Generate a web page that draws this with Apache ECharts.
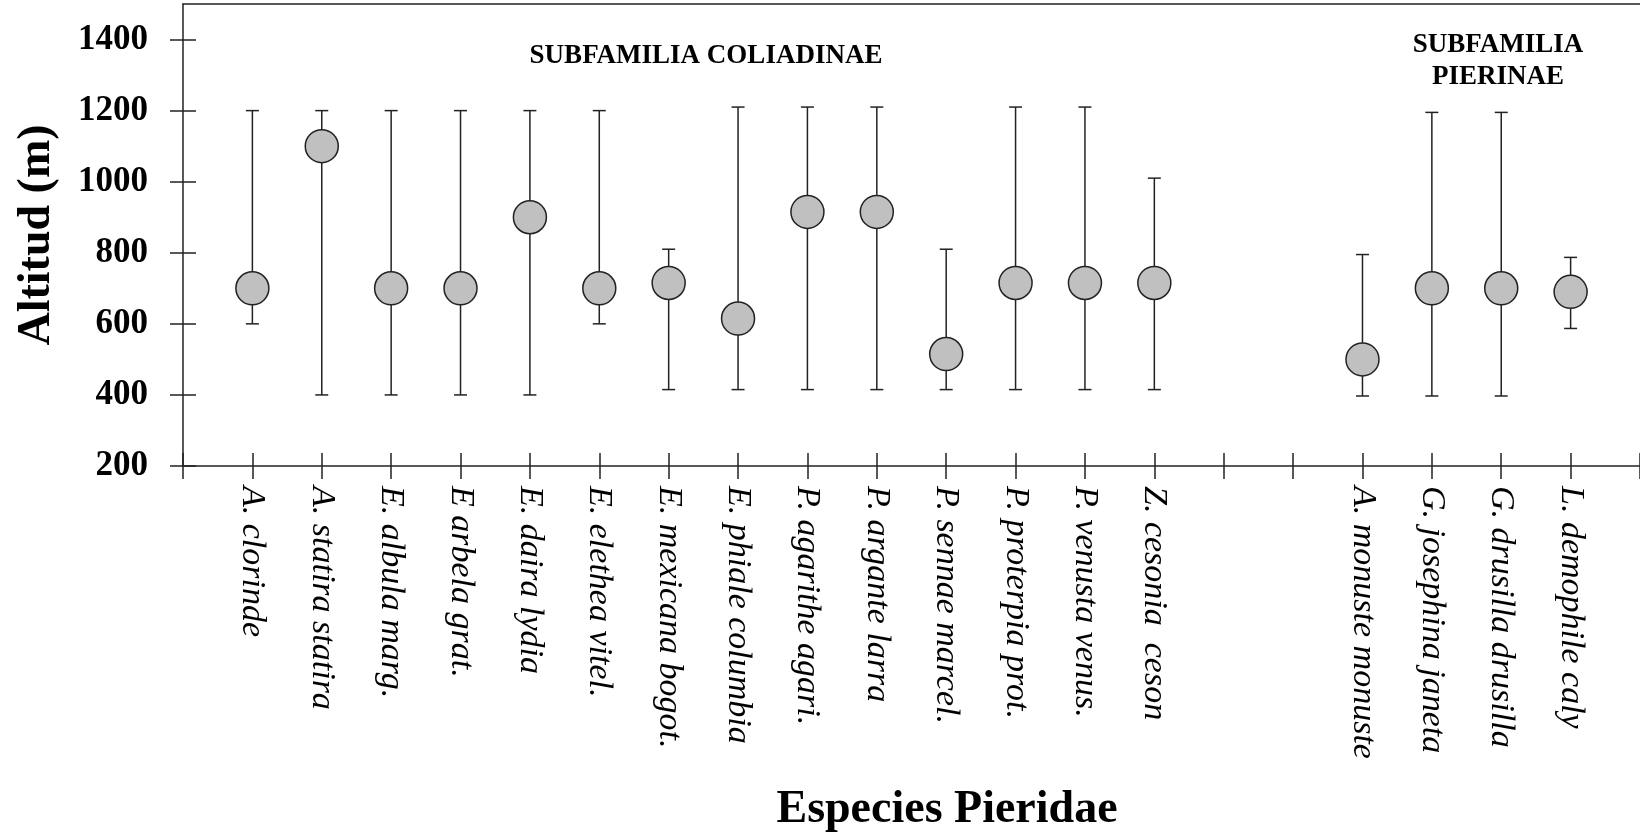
<!DOCTYPE html>
<html><head><meta charset="utf-8">
<script src="https://cdn.jsdelivr.net/npm/echarts@6/dist/echarts.min.js"></script>
<style>html,body{margin:0;padding:0;background:#fff}#c{width:1640px;height:840px}</style>
</head><body><div id="c"></div>
<script>
// Categories (slots 15 and 16 are empty gaps between subfamilies)
const species = ['A. clorinde','A. statira statira','E. albula marg.','E arbela grat.','E. daira lydia','E. elethea vitel.','E. mexicana bogot.','E. phiale columbia','P. agarithe agari.','P. argante larra','P. sennae marcel.','P. proterpia prot.','P. venusta venus.','Z. cesonia  ceson','','','A. monuste monuste','G. josephina janeta','G. drusilla drusilla','L. demophile caly'];
const meanAlt = [700,1100,700,700,900,700,715,615,915,915,515,715,715,715,null,null,500,700,700,690];
const minAlt  = [600,400,400,400,400,600,415,415,415,415,415,415,415,415,null,null,397,397,397,587];
const maxAlt  = [1200,1200,1200,1200,1200,1200,810,1210,1210,1210,810,1210,1210,1010,null,null,795,1195,1195,787];
const yTicks = [200,400,600,800,1000,1200,1400];
const annotColiadinae = 'SUBFAMILIA COLIADINAE';
const annotPierinae = ['SUBFAMILIA','PIERINAE'];
const xTitle = 'Especies Pieridae';
const yTitle = 'Altitud (m)';

const errData = [], meanData = [];
species.forEach((s,i)=>{
  if (meanAlt[i] == null) return;
  errData.push([i+1, minAlt[i], maxAlt[i]]);
  meanData.push([i+1, meanAlt[i]]);
});

const serif = '"Liberation Serif", "Times New Roman", serif';
const lineCol = '#222';
const chart = echarts.init(document.getElementById('c'), null, {renderer:'canvas'});
chart.setOption({
  backgroundColor:'#fff',
  animation:false,
  grid:{left:183, right:0, top:4, bottom:374, containLabel:false},
  xAxis:[
    {type:'value', min:0, max:21, interval:1, position:'bottom',
     axisLine:{show:true, lineStyle:{color:lineCol, width:1.5}},
     axisTick:{show:true, inside:false, length:13, lineStyle:{color:lineCol, width:1.5}},
     splitLine:{show:false},
     axisLabel:{show:true, rotate:-90, margin:20, color:'#000', fontFamily:serif, fontStyle:'italic', fontSize:34,
       formatter:v=>species[v-1] || ''}},
    {type:'value', min:0, max:21, interval:1, position:'bottom',
     axisLine:{show:false},
     axisTick:{show:true, inside:true, length:13, lineStyle:{color:lineCol, width:1.5}},
     splitLine:{show:false}, axisLabel:{show:false}},
    {type:'value', min:0, max:21, interval:1, position:'top',
     axisLine:{show:true, lineStyle:{color:lineCol, width:1.5}},
     axisTick:{show:false}, splitLine:{show:false}, axisLabel:{show:false}}
  ],
  yAxis:[
    {type:'value', min:200, max:1500, interval:200, position:'left',
     axisLine:{show:true, lineStyle:{color:lineCol, width:1.5}},
     axisTick:{show:true, inside:false, length:13, customValues:yTicks, lineStyle:{color:lineCol, width:1.5}},
     splitLine:{show:false},
     axisLabel:{show:true, customValues:yTicks, margin:35, color:'#000', fontFamily:serif, fontWeight:'bold', fontSize:35,
       formatter:v=>String(v)}},
    {type:'value', min:200, max:1500, interval:200, position:'left',
     axisLine:{show:false},
     axisTick:{show:true, inside:true, length:13, customValues:yTicks, lineStyle:{color:lineCol, width:1.5}},
     splitLine:{show:false}, axisLabel:{show:false}}
  ],
  series:[
    {type:'custom', xAxisIndex:0, yAxisIndex:0, data:errData, encode:{x:0, y:[1,2]}, z:2,
     renderItem:(params, api)=>{
       const x = api.value(0), lo = api.value(1), hi = api.value(2);
       const pLo = api.coord([x, lo]), pHi = api.coord([x, hi]);
       const hw = 6.5;
       const st = {stroke:lineCol, lineWidth:1.5};
       return {type:'group', children:[
         {type:'line', shape:{x1:pLo[0], y1:pLo[1], x2:pHi[0], y2:pHi[1]}, style:st},
         {type:'line', shape:{x1:pLo[0]-hw, y1:pLo[1], x2:pLo[0]+hw, y2:pLo[1]}, style:st},
         {type:'line', shape:{x1:pHi[0]-hw, y1:pHi[1], x2:pHi[0]+hw, y2:pHi[1]}, style:st}
       ]};
     }},
    {type:'scatter', xAxisIndex:0, yAxisIndex:0, data:meanData, z:5, symbol:'circle', symbolSize:33,
     itemStyle:{color:'#c0c0c0', borderColor:lineCol, borderWidth:1.5, opacity:1}}
  ],
  graphic:[
    {type:'text', x:706, y:56, z:10, style:{text:annotColiadinae, fill:'#000', font:'bold 27px '+serif, textAlign:'center', textVerticalAlign:'middle', align:'center', verticalAlign:'middle'}},
    {type:'text', x:1498, y:45, z:10, style:{text:annotPierinae[0], fill:'#000', font:'bold 27px '+serif, textAlign:'center', textVerticalAlign:'middle', align:'center', verticalAlign:'middle'}},
    {type:'text', x:1498, y:77, z:10, style:{text:annotPierinae[1], fill:'#000', font:'bold 27px '+serif, textAlign:'center', textVerticalAlign:'middle', align:'center', verticalAlign:'middle'}},
    {type:'text', x:947, y:810, z:10, style:{text:xTitle, fill:'#000', font:'bold 46px '+serif, textAlign:'center', textVerticalAlign:'middle', align:'center', verticalAlign:'middle'}},
    {type:'text', x:37, y:235, rotation:Math.PI/2, z:10, style:{text:yTitle, fill:'#000', font:'bold 46px '+serif, textAlign:'center', textVerticalAlign:'middle', align:'center', verticalAlign:'middle'}}
  ]
});
</script>
</body></html>
